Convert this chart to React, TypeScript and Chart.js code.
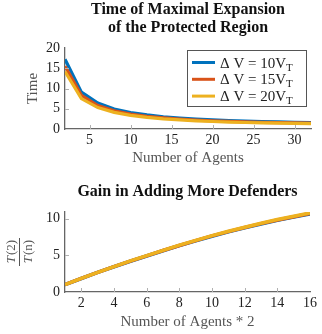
import { useEffect, useRef } from "react";
import { Chart, registerables } from "chart.js";
Chart.register(...registerables);

const agents = [2, 4, 6, 8, 10, 12, 14, 16, 18, 20, 22, 24, 26, 28, 30, 32];
const agentPairs = [1, 2, 3, 4, 5, 6, 7, 8, 9, 10, 11, 12, 13, 14, 15, 16];

const seriesLabels = ["Δ V = 10V_T", "Δ V = 15V_T", "Δ V = 20V_T"];
const seriesColors = ["#0072BD", "#D95319", "#EDB120"];

const time10 = [17.2, 9.1, 6.4, 4.95, 4.08, 3.47, 3.03, 2.7, 2.44, 2.24, 2.07, 1.94, 1.83, 1.74, 1.66, 1.6];
const time15 = [15.5, 8.3, 5.78, 4.47, 3.68, 3.13, 2.74, 2.44, 2.21, 2.02, 1.87, 1.76, 1.66, 1.57, 1.5, 1.44];
const time20 = [14.2, 7.5, 5.3, 4.1, 3.37, 2.87, 2.5, 2.23, 2.02, 1.85, 1.72, 1.61, 1.52, 1.44, 1.37, 1.32];

const gain10 = [1.0, 1.84, 2.66, 3.44, 4.19, 4.91, 5.62, 6.31, 6.97, 7.6, 8.19, 8.74, 9.26, 9.76, 10.2, 10.64];
const gain15 = [1.0, 1.85, 2.67, 3.45, 4.21, 4.93, 5.65, 6.34, 7.0, 7.64, 8.23, 8.78, 9.31, 9.81, 10.26, 10.7];
const gain20 = [1.0, 1.86, 2.68, 3.47, 4.23, 4.96, 5.68, 6.38, 7.04, 7.68, 8.28, 8.83, 9.36, 9.87, 10.33, 10.77];

const topTitle = ["Time of Maximal Expansion", "of the Protected Region"];
const bottomTitle = ["Gain in Adding More Defenders"];
const topXTicks = [5, 10, 15, 20, 25, 30];
const topYTicks = [0, 5, 10, 15, 20];
const bottomXTicks = [2, 4, 6, 8, 10, 12, 14, 16];
const bottomYTicks = [0, 5, 10];

const SERIF = "'Liberation Serif', 'DejaVu Serif', serif";
const TITLE_FONT = "bold 16px 'Liberation Serif', serif";

function titlePlugin(lines: string[], ys: number[]) {
  return {
    id: "mytitle",
    afterDraw(chart: any) {
      const { ctx, chartArea } = chart;
      ctx.save();
      ctx.font = TITLE_FONT;
      ctx.fillStyle = "#111";
      ctx.textAlign = "center";
      ctx.textBaseline = "middle";
      const cx = (chartArea.left + chartArea.right) / 2;
      lines.forEach((l, i) => ctx.fillText(l, cx, ys[i]));
      ctx.restore();
    },
  };
}

const innerTicks = {
  id: "innerTicks",
  afterDatasetsDraw(chart: any) {
    const { ctx, chartArea, scales } = chart;
    ctx.save();
    ctx.strokeStyle = "#b0b0b0";
    ctx.lineWidth = 1;
    scales.x.ticks.forEach((t: any) => {
      const px = Math.round(scales.x.getPixelForValue(t.value)) + 0.5;
      if (px <= chartArea.left + 1 || px >= chartArea.right - 1) return;
      ctx.beginPath();
      ctx.moveTo(px, chartArea.bottom);
      ctx.lineTo(px, chartArea.bottom - 4);
      ctx.stroke();
    });
    scales.y.ticks.forEach((t: any) => {
      const py = Math.round(scales.y.getPixelForValue(t.value)) + 0.5;
      if (py <= chartArea.top + 1 || py >= chartArea.bottom - 1) return;
      ctx.beginPath();
      ctx.moveTo(chartArea.left, py);
      ctx.lineTo(chartArea.left + 4, py);
      ctx.stroke();
    });
    ctx.restore();
  },
};

const legendPlugin = {
  id: "myLegend",
  afterDraw(chart: any) {
    const { ctx } = chart;
    const x0 = 187.5, y0 = 50.5, w = 119, h = 56;
    ctx.save();
    ctx.fillStyle = "#fff";
    ctx.fillRect(x0, y0, w, h);
    ctx.strokeStyle = "#555";
    ctx.lineWidth = 1;
    ctx.strokeRect(x0, y0, w, h);
    chart.data.datasets.forEach((ds: any, i: number) => {
      const y = 62.5 + i * 16.8;
      ctx.strokeStyle = ds.borderColor;
      ctx.lineWidth = 3;
      ctx.beginPath();
      ctx.moveTo(192, y);
      ctx.lineTo(215, y);
      ctx.stroke();
      const [main, sub] = String(ds.label).split("_");
      ctx.fillStyle = "#222";
      ctx.textBaseline = "alphabetic";
      ctx.textAlign = "left";
      ctx.font = `15px ${SERIF}`;
      ctx.fillText(main, 220, y + 5);
      const mw = ctx.measureText(main).width;
      ctx.font = `11px ${SERIF}`;
      ctx.fillText(sub, 220 + mw, y + 8);
    });
    ctx.restore();
  },
};

const fractionLabel = {
  id: "fracLabel",
  afterDraw(chart: any) {
    const { ctx, chartArea } = chart;
    const cy = (chartArea.top + chartArea.bottom) / 2;
    ctx.save();
    ctx.translate(19, cy);
    ctx.rotate(-Math.PI / 2);
    ctx.fillStyle = "#555";
    ctx.strokeStyle = "#555";
    ctx.textBaseline = "alphabetic";
    const drawT = (rest: string, y: number) => {
      ctx.font = `italic 13px ${SERIF}`;
      const tw = ctx.measureText("T").width;
      ctx.font = `13px ${SERIF}`;
      const rw = ctx.measureText(rest).width;
      const start = -(tw + rw) / 2;
      ctx.font = `italic 13px ${SERIF}`;
      ctx.fillText("T", start, y);
      ctx.font = `13px ${SERIF}`;
      ctx.fillText(rest, start + tw + 1, y);
    };
    drawT("(2)", -4.5);
    ctx.lineWidth = 1;
    ctx.beginPath();
    ctx.moveTo(-14, 0.5);
    ctx.lineTo(14, 0.5);
    ctx.stroke();
    drawT("(n)", 13);
    ctx.restore();
  },
};

function axisCommon(ticks: number[], fixedSize: number, horizontal: boolean) {
  return {
    type: "linear" as const,
    afterBuildTicks: (s: any) => {
      s.ticks = ticks.map((v) => ({ value: v }));
    },
    afterFit: (s: any) => {
      if (horizontal) s.height = fixedSize;
      else s.width = fixedSize;
    },
    grid: { display: true, drawOnChartArea: false, drawTicks: false },
    border: { display: true, color: "#666", width: 1.3 },
    ticks: {
      color: "#222",
      font: { family: SERIF, size: 14 },
      padding: horizontal ? 3 : 5,
      autoSkip: false,
      maxRotation: 0,
    },
  };
}

function TopChart() {
  const ref = useRef<HTMLCanvasElement>(null);
  useEffect(() => {
    const series = [time10, time15, time20];
    const chart = new Chart(ref.current!, {
      type: "line",
      data: {
        datasets: series.map((s, i) => ({
          label: seriesLabels[i],
          data: s.map((v, j) => ({ x: agents[j], y: v })),
          borderColor: seriesColors[i],
          backgroundColor: seriesColors[i],
          borderWidth: 3.2,
          pointRadius: 0,
          tension: 0,
          order: 2 - i,
        })),
      },
      options: {
        animation: false,
        responsive: false,
        layout: { padding: { top: 48, right: 11, left: 0, bottom: 0 } },
        plugins: { legend: { display: false }, tooltip: { enabled: false } },
        scales: {
          x: {
            ...axisCommon(topXTicks, 41, true),
            min: 2,
            max: 32,
            title: { display: true, text: "Number of Agents", color: "#555", font: { family: SERIF, size: 15 }, padding: { top: 0, bottom: 3 } },
          },
          y: {
            ...axisCommon(topYTicks, 65, false),
            min: 0,
            max: 20,
            title: { display: true, text: "Time", color: "#555", font: { family: SERIF, size: 15 }, padding: { top: 24, bottom: 0 } },
          },
        },
      },
      plugins: [titlePlugin(topTitle, [10, 28]), innerTicks, legendPlugin],
    });
    return () => chart.destroy();
  }, []);
  return <canvas ref={ref} width={322} height={170} style={{ display: "block", width: 322, height: 170 }} />;
}

function BottomChart() {
  const ref = useRef<HTMLCanvasElement>(null);
  useEffect(() => {
    const series = [gain10, gain15, gain20];
    const chart = new Chart(ref.current!, {
      type: "line",
      data: {
        datasets: series.map((s, i) => ({
          label: seriesLabels[i],
          data: s.map((v, j) => ({ x: agentPairs[j], y: v })),
          borderColor: seriesColors[i],
          backgroundColor: seriesColors[i],
          borderWidth: 3.5,
          pointRadius: 0,
          tension: 0,
          order: 2 - i,
        })),
      },
      options: {
        animation: false,
        responsive: false,
        layout: { padding: { top: 42, right: 12, left: 0, bottom: 0 } },
        plugins: { legend: { display: false }, tooltip: { enabled: false } },
        scales: {
          x: {
            ...axisCommon(bottomXTicks, 42, true),
            min: 1,
            max: 16,
            title: { display: true, text: "Number of Agents * 2", color: "#555", font: { family: SERIF, size: 15 }, padding: { top: 0, bottom: 3 } },
          },
          y: {
            ...axisCommon(bottomYTicks, 65, false),
            min: 0,
            max: 10.9,
            title: { display: false },
          },
        },
      },
      plugins: [titlePlugin(bottomTitle, [22]), innerTicks, fractionLabel],
    });
    return () => chart.destroy();
  }, []);
  return <canvas ref={ref} width={322} height={164} style={{ display: "block", width: 322, height: 164 }} />;
}

export default function App() {
  return (
    <div style={{ position: "absolute", left: 0, top: 0, width: 322, height: 334, background: "#fff" }}>
      <TopChart />
      <BottomChart />
    </div>
  );
}
